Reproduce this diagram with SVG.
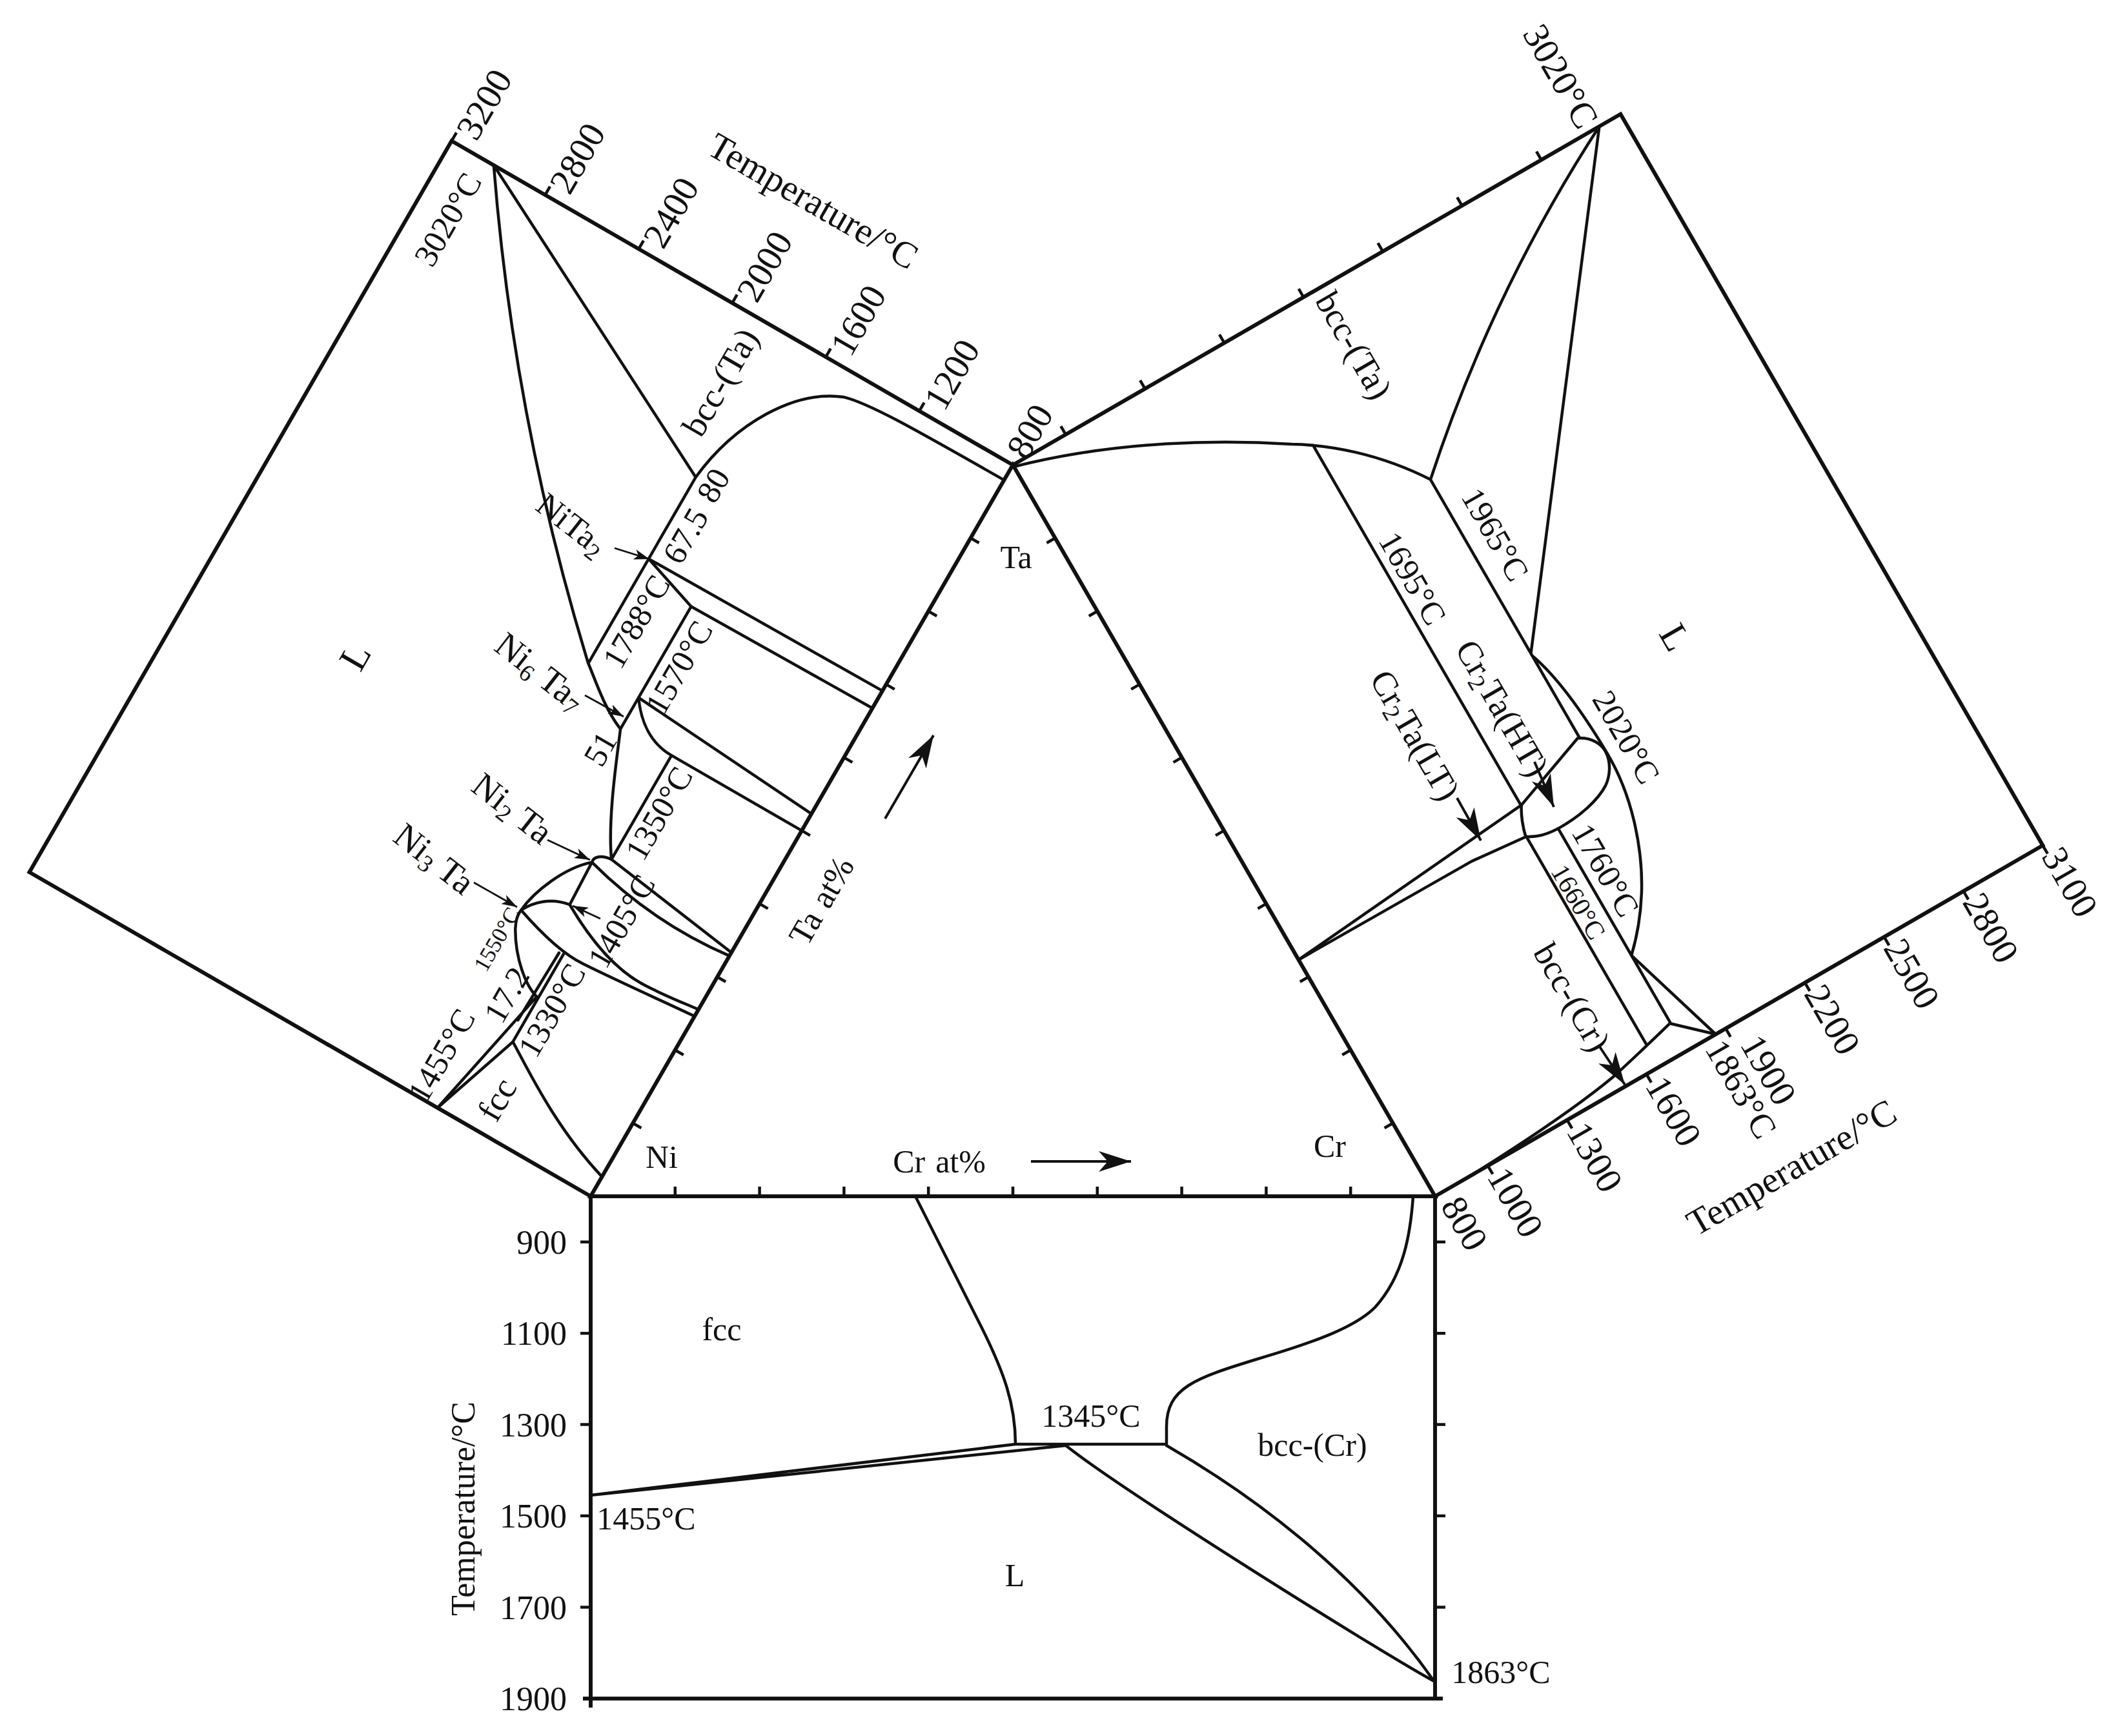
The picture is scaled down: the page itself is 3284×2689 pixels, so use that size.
<svg xmlns="http://www.w3.org/2000/svg" width="3284" height="2689" viewBox="0 0 3284 2689">
<style>
.fr{fill:none;stroke:#111;stroke-width:6;stroke-linejoin:miter}
.ph{fill:none;stroke:#111;stroke-width:4.5;stroke-linejoin:round;stroke-linecap:round}
.tk{fill:none;stroke:#111;stroke-width:4.5}
.ar{fill:none;stroke:#111;stroke-width:2.8}
.ab{fill:none;stroke:#111;stroke-width:4}
text{font-family:"Liberation Serif","Times New Roman",serif;fill:#111;text-anchor:middle;dominant-baseline:central}
.A{font-size:57px}
.L{font-size:54px}
.M{font-size:51px}
.C{font-size:55px}
.N{font-size:52px}
.B{font-size:50px}
.Bn{font-size:52px}
.LL{font-size:60px}
.S{font-size:35px}
.X{font-size:41px}
.sb{font-size:37px}
.e{text-anchor:end}
</style>
<defs>
<marker id="a1" markerUnits="userSpaceOnUse" markerWidth="24" markerHeight="16" refX="24" refY="8" orient="auto" viewBox="0 0 24 16"><path d="M0,0L24,8L0,16L6,8Z" fill="#111"/></marker>
<marker id="a2" markerUnits="userSpaceOnUse" markerWidth="50" markerHeight="32" refX="50" refY="16" orient="auto" viewBox="0 0 50 32"><path d="M0,0L50,16L0,32L14,16Z" fill="#111"/></marker>
</defs>
<rect width="3284" height="2689" fill="#fff"/>

<g id="triangle">
<path class="fr" d="M915,1853L2223,1853L1569,720Z"/>
<path class="tk" d="M1045.8,1853v-15M1176.6,1853v-15M1307.4,1853v-15M1438.2,1853v-15M1569,1853v-15M1699.8,1853v-15M1830.6,1853v-15M1961.4,1853v-15M2092.2,1853v-15"/>
<text class="B" x="1025" y="1792">Ni</text>
<text class="B" x="1574" y="863">Ta</text>
<text class="B" x="2060" y="1775">Cr</text>
<text class="B" x="1455" y="1799">Cr<tspan dx="16">at%</tspan></text>
<text class="Bn" x="1272" y="1395" transform="rotate(-60 1272 1395)">Ta<tspan dx="16">at%</tspan></text>
</g>

<g id="left-diagram">
<g transform="matrix(0.5,-0.866,-0.866,-0.5,915,1853)">
<path class="fr" d="M0,0V1004H1308V0"/>
<path class="tk" d="M1308,167.3h15M1308,334.6h15M1308,502h15M1308,669.3h15M1308,836.6h15M1308,1004h15"/>
<path class="tk" d="M130.8,0v-15M261.6,0v-15M392.4,0v-15M523.2,0v-15M654,0v-15M784.8,0v-15M915.6,0v-15M1046.4,0v-15M1177.2,0v-15"/>
<path class="ph" d="M1308,928.6L1046,416
M1308,928.6C1091,779.5 892.5,608.8 713,416
M1046,416C1150,405 1240,350 1268,280C1280,240 1280,150 1281,0
M713,416H1046
M900,416L904,0
M900,416L869,322L873,0
M869,322H650
M713,416C700,398 665,360 650,322
M706,322L684,0
M706,322C675,300 654,270 654,233V0
M654,233H468
M650,322C610,305 520,270 468,233
M449,257C457,259 466,252 468,233
M449,257Q415,130 430,0
M468,233L436,0
M375,254L449,257
M330,315C365,312 420,290 449,257
M330,315C350,305 370,285 375,254
M375,254C350,210 322,150 325,90C327,50 332,20 334,0
M330,315C318,280 303,230 306,190C309,140 316,70 322,0
M226,227C232,250 260,285 300,308C315,316 325,316 330,315
M0,274L226,227
M0,274L147,224
M147,224H305
M180,234L302,231
M147,224C120,180 65,100 35,0"/>
</g>
<text class="A" x="749.5" y="161.5" transform="rotate(-60 749.5 161.5)">3200</text>
<text class="A" x="894" y="245" transform="rotate(-60 894 245)">2800</text>
<text class="A" x="1039" y="329" transform="rotate(-60 1039 329)">2400</text>
<text class="A" x="1184" y="412.5" transform="rotate(-60 1184 412.5)">2000</text>
<text class="A" x="1329" y="496" transform="rotate(-60 1329 496)">1600</text>
<text class="A" x="1474" y="580" transform="rotate(-60 1474 580)">1200</text>
<text class="A" x="1595" y="668" transform="rotate(-60 1595 668)">800</text>
<text class="A" x="1260" y="311" transform="rotate(30 1260 311)">Temperature/°C</text>
<text class="M" x="694" y="340" transform="rotate(-60 694 340)">3020°C</text>
<text class="L" x="1116" y="592" transform="rotate(-60 1116 592)">bcc-(Ta)</text>
<text class="M" x="1105" y="752" transform="rotate(-60 1105 752)">80</text>
<text class="M" x="1062" y="830" transform="rotate(-60 1062 830)">67.5</text>
<text class="M" x="986" y="963" transform="rotate(-60 986 963)">1788°C</text>
<text class="M" x="1052" y="1034" transform="rotate(-60 1052 1034)">1570°C</text>
<text class="M" x="930" y="1160" transform="rotate(-60 930 1160)">51</text>
<text class="M" x="1021" y="1260" transform="rotate(-60 1021 1260)">1350°C</text>
<text class="M" x="963" y="1427" transform="rotate(-60 963 1427)">1405°C</text>
<text class="S" x="770" y="1455" transform="rotate(-60 770 1455)">1550°C</text>
<text class="M" x="785" y="1541" transform="rotate(-60 785 1541)">17.2</text>
<text class="M" x="855" y="1565" transform="rotate(-60 855 1565)">1330°C</text>
<text class="M" x="684" y="1635" transform="rotate(-60 684 1635)">1455°C</text>
<text class="L" x="770" y="1703" transform="rotate(-60 770 1703)">fcc</text>
<text class="LL" x="550" y="1017" transform="rotate(-60 550 1017)">L</text>
<text class="N" x="886" y="812" transform="rotate(38 886 812)">NiTa<tspan class="sb" dy="14">2</tspan></text>
<text class="C" x="837" y="1040" transform="rotate(38 837 1040)">Ni<tspan class="sb" dy="14">6</tspan><tspan dy="-14"> Ta</tspan><tspan class="sb" dy="14">7</tspan></text>
<text class="C" x="794" y="1252" transform="rotate(38 794 1252)">Ni<tspan class="sb" dy="14">2</tspan><tspan dy="-14"> Ta</tspan></text>
<text class="C" x="673" y="1330" transform="rotate(38 673 1330)">Ni<tspan class="sb" dy="14">3</tspan><tspan dy="-14"> Ta</tspan></text>
</g>

<g id="right-diagram">
<g transform="matrix(-0.5,-0.866,0.866,-0.5,2223,1853)">
<path class="fr" d="M1308,0V1087H0V0"/>
<path class="tk" d="M0,94.5h-15M0,236.3h-15M0,378.1h-15M0,519.9h-15M0,661.6h-15M0,803.4h-15M0,945.2h-15M0,1087h-15"/>
<path class="tk" d="M1308,94.5h15M1308,236.3h15M1308,378.1h15M1308,519.9h15M1308,661.6h15M1308,803.4h15M1308,945.2h15"/>
<path class="tk" d="M130.8,0v-15M261.6,0v-15M392.4,0v-15M523.2,0v-15M654,0v-15M784.8,0v-15M915.6,0v-15M1046.4,0v-15M1177.2,0v-15"/>
<path class="ph" d="M1308,1049C1215.5,867.4 1101,700.8 965,549
M1308,1049L654,549
M965,549H504
M965,549C1040,500 1090,440 1120,390C1180,300 1260,160 1305,0
M1102,418H457
M650,549C600,567 530,573 460,574C380,575 300,545 247,512C215,492 190,470 171,450
M504,546C495,565 478,574 463,573C445,572 428,560 419,547C405,525 398,490 398,455C398,430 403,415 412,400
M504,546L458,419
M458,419C445,410 425,403 412,400
M458,419L423,0
M412,400L421,309L423,0
M412,401H41
M398,450H50
M171,450L0,502
M50,449L0,502
M50,449C38,400 28,360 22,330C12,270 4,180 0,60"/>
</g>
<text class="A" x="2418" y="118" transform="rotate(60 2418 118)">3020°C</text>
<text class="L" x="2097" y="535" transform="rotate(60 2097 535)">bcc-(Ta)</text>
<text class="M" x="2316" y="828" transform="rotate(60 2316 828)">1965°C</text>
<text class="M" x="2188" y="896" transform="rotate(60 2188 896)">1695°C</text>
<text class="LL" x="2595" y="987" transform="rotate(60 2595 987)">L</text>
<text class="L" x="2327" y="1097" transform="rotate(60 2327 1097)">Cr<tspan class="sb" dy="14">2</tspan><tspan dy="-14">Ta(HT)</tspan></text>
<text class="L" x="2192" y="1139" transform="rotate(60 2192 1139)">Cr<tspan class="sb" dy="14">2</tspan><tspan dy="-14">Ta(LT)</tspan></text>
<text class="M" x="2519" y="1142" transform="rotate(60 2519 1142)">2020°C</text>
<text class="M" x="2487" y="1348" transform="rotate(60 2487 1348)">1760°C</text>
<text class="X" x="2445" y="1397" transform="rotate(60 2445 1397)">1660°C</text>
<text class="L" x="2435" y="1545" transform="rotate(60 2435 1545)">bcc-(Cr)</text>
<text class="L" x="2697" y="1687" transform="rotate(60 2697 1687)">1863°C</text>
<text class="A" x="2269" y="1895" transform="rotate(60 2269 1895)">800</text>
<text class="A" x="2348" y="1862" transform="rotate(60 2348 1862)">1000</text>
<text class="A" x="2471" y="1792" transform="rotate(60 2471 1792)">1300</text>
<text class="A" x="2593" y="1721" transform="rotate(60 2593 1721)">1600</text>
<text class="A" x="2740" y="1657" transform="rotate(60 2740 1657)">1900</text>
<text class="A" x="2839" y="1579" transform="rotate(60 2839 1579)">2200</text>
<text class="A" x="2962" y="1508" transform="rotate(60 2962 1508)">2500</text>
<text class="A" x="3084.5" y="1437" transform="rotate(60 3084.5 1437)">2800</text>
<text class="A" x="3207" y="1366" transform="rotate(60 3207 1366)">3100</text>
<text class="A" x="2775" y="1808" transform="rotate(-30 2775 1808)">Temperature/°C</text>
</g>

<g id="bottom-diagram">
<path class="fr" d="M915,1853V2645M903,2631H2235M2223,1853V2631"/>
<path class="tk" d="M915,1923.7h-16M915,2065.2h-16M915,2206.6h-16M915,2348.1h-16M915,2489.5h-16M2223,1923.7h16M2223,2065.2h16M2223,2206.6h16M2223,2348.1h16M2223,2489.5h16"/>
<path class="ph" d="M1418,1853L1520,2055C1555,2125 1573,2175 1573,2237
M1573,2237H1807
M915,2316L1573,2237
M915,2316L1651,2239
M1651,2239C1740,2310 2140,2560 2223,2605
M1807,2239C1930,2310 2100,2430 2222,2605
M1807,2239L1807,2210C1807,2150 1850,2135 1948,2105C2040,2078 2100,2055 2130,2025C2175,1975 2185,1910 2189,1853"/>
<text class="Bn e" x="878" y="1924">900</text>
<text class="Bn e" x="878" y="2065">1100</text>
<text class="Bn e" x="878" y="2207">1300</text>
<text class="Bn e" x="878" y="2348">1500</text>
<text class="Bn e" x="878" y="2490">1700</text>
<text class="Bn e" x="878" y="2631">1900</text>
<text class="Bn" x="717" y="2337" transform="rotate(-90 717 2337)">Temperature/°C</text>
<text class="B" x="1118" y="2059">fcc</text>
<text class="B" x="1690" y="2193">1345°C</text>
<text class="B" x="1001" y="2352">1455°C</text>
<text class="B" x="1572" y="2440">L</text>
<text class="B" x="2033" y="2238">bcc-(Cr)</text>
<text class="B" x="2325" y="2590">1863°C</text>
</g>

<g id="connectors">
<path class="ar" marker-end="url(#a1)" d="M952,849L1006,866"/>
<path class="ar" marker-end="url(#a1)" d="M906,1077L966,1110"/>
<path class="ar" marker-end="url(#a1)" d="M848,1301L914,1332"/>
<path class="ar" marker-end="url(#a1)" d="M734,1367L801,1405"/>
<path class="ar" marker-end="url(#a1)" d="M930,1423L887,1403"/>
<path class="ab" marker-end="url(#a2)" d="M1371,1268L1446,1139"/>
<path class="ab" marker-end="url(#a2)" d="M1597,1799L1752,1799"/>
<path class="ab" marker-end="url(#a2)" d="M2257,1236L2294,1302"/>
<path class="ab" marker-end="url(#a2)" d="M2377,1180L2407,1250"/>
<path class="ab" marker-end="url(#a2)" d="M2477,1620L2517,1680"/>
</g>
</svg>
